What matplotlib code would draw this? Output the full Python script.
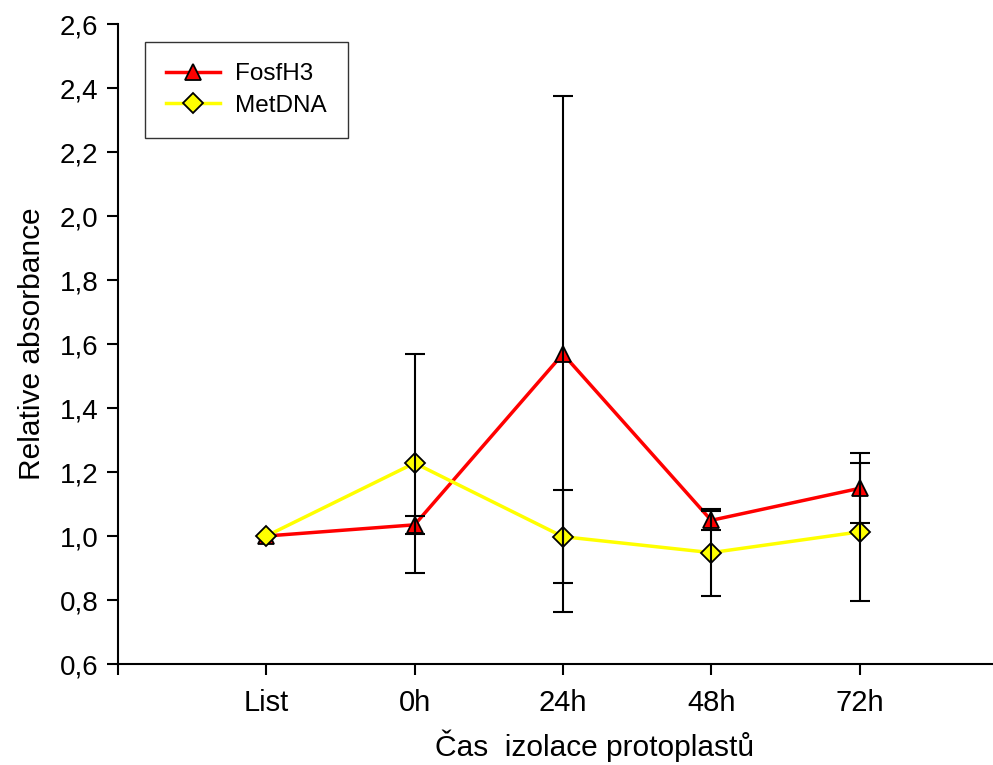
import matplotlib
matplotlib.use("Agg")
import matplotlib.pyplot as plt
import numpy as np

plt.rcParams['font.family'] = ['Liberation Sans', 'DejaVu Sans']

categories = ["List", "0h", "24h", "48h", "72h"]
fosf = [1.0, 1.035, 1.569, 1.049, 1.149]
fosf_err = [0.0, 0.029, 0.806, 0.030, 0.109]
met = [1.0, 1.228, 0.998, 0.948, 1.013]
met_err = [0.0, 0.342, 0.145, 0.135, 0.216]
yticks = [0.6, 0.8, 1.0, 1.2, 1.4, 1.6, 1.8, 2.0, 2.2, 2.4, 2.6]

fig = plt.figure(figsize=(9.93, 7.65), dpi=100)
ax = fig.add_axes([0.1188, 0.132, 0.8812, 0.8366])
x = np.arange(1, len(categories) + 1)

l1, = ax.plot(x, fosf, color='red', lw=2.5, marker='^', ms=12,
              mfc='red', mec='black', mew=1.3, zorder=2, label='FosfH3')
l2, = ax.plot(x, met, color='#ffff00', lw=2.5, marker='D', ms=10,
              mfc='#ffff00', mec='black', mew=1.3, zorder=2.5, label='MetDNA')
for vals, errs in ((fosf, fosf_err), (met, met_err)):
    xs = [xi for xi, e in zip(x, errs) if e > 0]
    vs = [v for v, e in zip(vals, errs) if e > 0]
    es = [e for e in errs if e > 0]
    ax.errorbar(xs, vs, yerr=es, fmt='none', ecolor='black', elinewidth=1.5,
                capsize=7.5, capthick=1.5, zorder=3)

ax.set_xlim(0, 5.9)
ax.set_ylim(0.6, 2.6)
ax.set_xticks([0] + list(x))
ax.set_xticklabels([""] + categories)
ax.set_yticks(yticks)
ax.set_yticklabels([f"{t:.1f}".replace('.', ',') for t in yticks])
ax.spines['top'].set_visible(False)
ax.spines['right'].set_visible(False)
for s in ('left', 'bottom'):
    ax.spines[s].set_linewidth(1.5)
ax.tick_params(direction='out', length=8, width=1.5, labelsize=20, pad=6)
ax.tick_params(axis='x', pad=10, labelsize=21)
ax.set_ylabel("Relative absorbance", fontsize=21.5, labelpad=10)
ax.set_xlabel("Čas  izolace protoplastů", fontsize=21.5, labelpad=10)
ax.xaxis.set_label_coords(0.545, -0.102)

leg = ax.legend(handles=[l1, l2], loc='upper left', bbox_to_anchor=(0.031, 0.972),
                borderaxespad=0, fontsize=17.5, frameon=True, fancybox=False,
                edgecolor='black', handlelength=2.2, borderpad=0.88,
                labelspacing=0.38, handletextpad=0.6)
leg.get_frame().set_linewidth(1.0)

fig.savefig("out.png", dpi=100)
